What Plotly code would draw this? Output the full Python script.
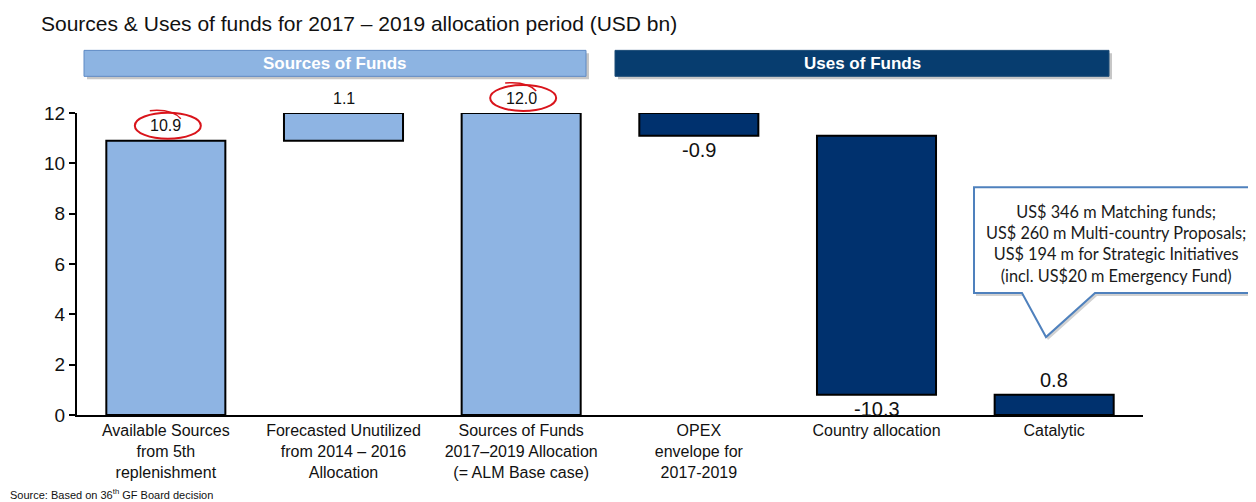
import plotly.graph_objects as go

# ---- data ----
categories = [
    "Available Sources<br>from 5th<br>replenishment",
    "Forecasted Unutilized<br>from 2014 – 2016<br>Allocation",
    "Sources of Funds<br>2017–2019 Allocation<br>(= ALM Base case)",
    "OPEX<br>envelope for<br>2017-2019",
    "Country allocation",
    "Catalytic",
]
values = [10.9, 1.1, 12.0, -0.9, -10.3, 0.8]
kinds = ["total", "delta", "total", "delta", "delta", "total"]
groups = ["source", "source", "source", "use", "use", "use"]
highlighted = [True, False, True, False, False, False]
callout_lines = [
    "US$ 346 m Matching funds;",
    "US$ 260 m Multi-country Proposals;",
    "US$ 194 m for Strategic Initiatives",
    "(incl. US$20 m Emergency Fund)",
]
y_ticks = [0, 2, 4, 6, 8, 10, 12]
y_max = 12

LIGHT = "#8EB4E3"
DARK = "#00316E"
FONT = "Liberation Sans, Arial, sans-serif"

# waterfall bases
bases, heights = [], []
running = 0.0
for v, k in zip(values, kinds):
    if k == "total":
        bases.append(0.0)
        heights.append(v)
        running = v
    else:
        bases.append(running)
        heights.append(v)
        running += v

colors = [LIGHT if g == "source" else DARK for g in groups]

# page body has an 8px margin -> figure is drawn 8px smaller and shifted
OFF = 8
W, H = 1256 - OFF, 502 - OFF
# plot area in reference-picture pixels
PL, PR, PT, PB = 77, 1143, 112.7, 415


def px(x):
    return (x - PL) / (PR - PL)


def py(y):
    return (PB - y) / (PB - PT)


n = len(categories)

fig = go.Figure(
    go.Bar(
        x=list(range(n)),
        y=heights,
        base=bases,
        width=0.67,
        marker=dict(color=colors, line=dict(color="black", width=2)),
        hoverinfo="skip",
    )
)

annotations = []
shapes = []

# value labels
for i, (b, h, g) in enumerate(zip(bases, heights, groups)):
    top = max(b, b + h)
    bot = min(b, b + h)
    if h < 0:
        yv, ys = bot, -14
    else:
        yv, ys = top, 15
    annotations.append(dict(
        x=i, y=yv, xref="x", yref="y", text=f"{h:.1f}", showarrow=False,
        xanchor="center", yanchor="middle", yshift=ys,
        font=dict(family=FONT, size=16 if g == "source" else 20, color="#111111"),
    ))
    if highlighted[i]:
        xa = (i + 0.5) / n
        ya = top / y_max
        shapes.append(dict(
            type="circle", xref="paper", yref="paper", xsizemode="pixel", ysizemode="pixel",
            xanchor=xa, yanchor=ya, x0=-31, x1=35, y0=2, y1=28,
            line=dict(color="#D9141B", width=2), fillcolor="rgba(0,0,0,0)",
            layer="above",
        ))
        shapes.append(dict(
            type="path", xref="paper", yref="paper", xsizemode="pixel", ysizemode="pixel",
            xanchor=xa, yanchor=ya,
            path="M -16,30 Q 6,32 15,22",
            line=dict(color="#D9141B", width=1.5), layer="above",
        ))


# header bars
def header(x0, x1, fill, border, text):
    shapes.append(dict(type="rect", xref="paper", yref="paper",
                       x0=px(x0 + 3), x1=px(x1 + 3), y0=py(79), y1=py(53),
                       fillcolor="rgba(0,0,0,0.22)", line=dict(width=0), layer="below"))
    shapes.append(dict(type="rect", xref="paper", yref="paper",
                       x0=px(x0), x1=px(x1), y0=py(76), y1=py(50),
                       fillcolor=fill, line=dict(color=border, width=1), layer="above"))
    annotations.append(dict(x=px((x0 + x1) / 2), y=py(63), xref="paper", yref="paper",
                            xanchor="center", yanchor="middle",
                            text=f"<b>{text}</b>", showarrow=False,
                            font=dict(family=FONT, size=17, color="white")))


header(84, 586, "#8DB4E2", "#5E8AC4", "Sources of Funds")
header(615, 1109, "#073D6F", "#1F4E79", "Uses of Funds")


# callout
def callout_path(dx, dy):
    pts = [(974, 187), (1262, 187), (1262, 293), (1095, 293), (1046, 337), (1022, 293), (974, 293)]
    return "M " + " L ".join(f"{px(x + dx):.5f},{py(y + dy):.5f}" for x, y in pts) + " Z"


shapes.append(dict(type="path", xref="paper", yref="paper", path=callout_path(2, 3),
                   fillcolor="rgba(0,0,0,0.18)", line=dict(width=0), layer="above"))
shapes.append(dict(type="path", xref="paper", yref="paper", path=callout_path(0, 0),
                   fillcolor="white", line=dict(color="#4F81BD", width=2), layer="above"))
annotations.append(dict(x=px(1116), y=py(243), xref="paper", yref="paper",
                        xanchor="center", yanchor="middle",
                        text="<br>".join(callout_lines), showarrow=False, align="center",
                        font=dict(family="Lato, Open Sans, sans-serif", size=16.3, color="#1a1a1a")))

# title & source
annotations.append(dict(x=px(39), y=py(23), xref="paper", yref="paper",
                        xanchor="left", yanchor="middle",
                        text="Sources & Uses of funds for 2017 – 2019 allocation period (USD bn)",
                        showarrow=False, font=dict(family=FONT, size=21, color="#111111")))
annotations.append(dict(x=px(OFF), y=py(494), xref="paper", yref="paper",
                        xanchor="left", yanchor="middle",
                        text="Source: Based on 36<sup>th</sup> GF Board decision",
                        showarrow=False, font=dict(family=FONT, size=11, color="#111111")))

fig.update_layout(
    width=W, height=H, autosize=False,
    margin=dict(l=PL - OFF, r=W - (PR - OFF), t=PT - OFF, b=H - (PB - OFF), pad=0),
    plot_bgcolor="white", paper_bgcolor="white",
    showlegend=False,
    annotations=annotations, shapes=shapes,
    xaxis=dict(range=[-0.5, n - 0.5], tickvals=list(range(n)), ticktext=categories,
               showline=True, linecolor="black", linewidth=2, ticks="", showgrid=False,
               zeroline=False, tickfont=dict(family=FONT, size=16, color="#111111")),
    yaxis=dict(range=[0, y_max], tickvals=y_ticks, showline=True,
               linecolor="black", linewidth=2, ticks="outside", ticklen=6, tickwidth=2,
               tickcolor="black", showgrid=False, zeroline=False,
               tickfont=dict(family=FONT, size=19, color="#111111")),
)

fig.write_html("out.html")
